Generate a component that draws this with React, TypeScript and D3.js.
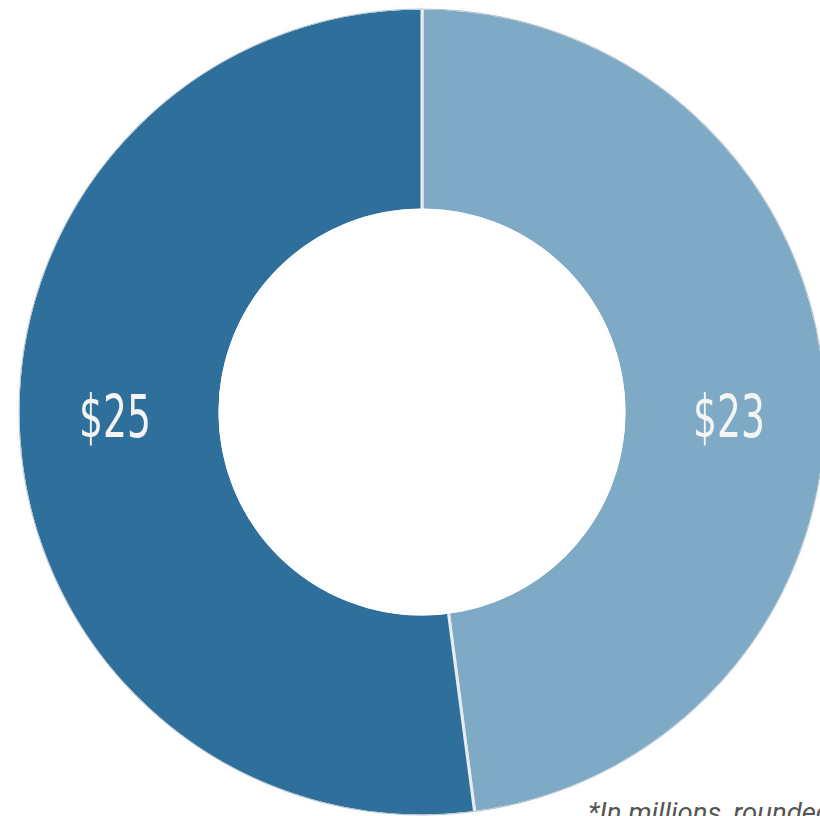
import React from 'react';
import * as d3 from 'd3';

// slice values (in millions), clockwise from 12 o'clock
const categories = ['A', 'B'];
const values = [23, 25];
const labels = ['$23', '$25'];
const colors = ['#7eaac6', '#2f6f9b'];
const footnote = '*In millions, rounded';

const W = 820;
const H = 816;

const App: React.FC = () => {
  const cx = 422;
  const cy = 412;
  const outer = 404;
  const inner = 202;

  const pie = d3
    .pie<number>()
    .sort(null)
    .value((d) => d);
  const arcs = pie(values);

  const arc = d3
    .arc<d3.PieArcDatum<number>>()
    .innerRadius(inner)
    .outerRadius(outer);

  const mid = (inner + outer) / 2 + 4;

  return (
    <svg
      width={W}
      height={H}
      style={{ position: 'absolute', left: 0, top: 0, background: '#fff' }}
    >
      <g transform={`translate(${cx},${cy})`}>
        {arcs.map((a, i) => (
          <path
            key={categories[i]}
            d={arc(a) || ''}
            fill={colors[i]}
            stroke="#e9ecef"
            strokeWidth={3}
            strokeLinejoin="miter"
          />
        ))}
        {/* hide the stroke on the rims, keep only the radial separators */}
        <circle r={outer} fill="none" stroke="#fff" strokeWidth={3} />
        <circle r={outer - 1} fill="none" stroke="#5f7f95" strokeWidth={0.8} opacity={0.6} />
        <circle r={inner} fill="none" stroke="#fff" strokeWidth={3} />
        {arcs.map((a, i) => {
          const angle = (a.startAngle + a.endAngle) / 2;
          const side = Math.sin(angle) >= 0 ? 1 : -1;
          return (
            <text
              key={labels[i]}
              x={side * mid}
              y={25}
              textAnchor="middle"
              fill="#f4f4f4"
              fontFamily="'DejaVu Sans Condensed', 'Liberation Sans Narrow', 'Roboto', sans-serif"
              fontSize={58}
              textLength={72}
              lengthAdjust="spacingAndGlyphs"
            >
              {labels[i]}
            </text>
          );
        })}
      </g>
      <text
        x={588}
        y={822}
        fill="#555"
        fontFamily="Roboto, 'Liberation Sans', sans-serif"
        fontStyle="italic"
        fontSize={27.5}
      >
        {footnote}
      </text>
    </svg>
  );
};

export default App;
